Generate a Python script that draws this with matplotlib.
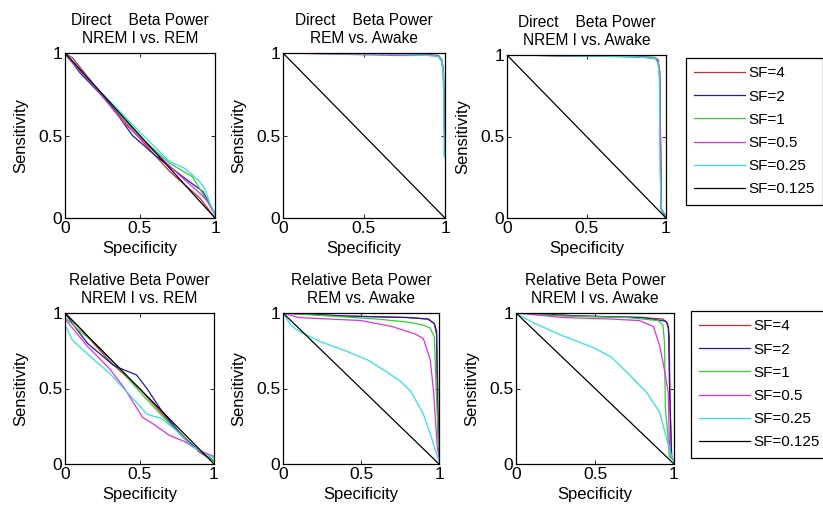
import matplotlib
matplotlib.use("Agg")
import matplotlib.pyplot as plt
from matplotlib.lines import Line2D

plt.rcParams['font.family'] = ['Liberation Sans', 'DejaVu Sans']
plt.rcParams['font.size'] = 10

# ---------------- data ----------------
sf_labels = ['SF=4', 'SF=2', 'SF=1', 'SF=0.5', 'SF=0.25', 'SF=0.125']
sf_colors = ['#cc2b2b', '#1c1ca8', '#30d030', '#e030e0', '#30e0e0', '#000000']

titles = [
    'Direct    Beta Power\nNREM I vs. REM',
    'Direct    Beta Power\nREM vs. Awake',
    'Direct    Beta Power\nNREM I vs. Awake',
    'Relative Beta Power\nNREM I vs. REM',
    'Relative Beta Power\nREM vs. Awake',
    'Relative Beta Power\nNREM I vs. Awake',
]

tick_vals = [0, 0.5, 1]
tick_labels = ['0', '0.5', '1']

# each panel: SF label -> (specificity list, sensitivity list)
direct_nrem_rem = {
    'SF=4':     ([0, 0.05, 0.2, 0.4, 0.5, 0.7, 0.9, 1], [1, 0.97, 0.8, 0.58, 0.48, 0.28, 0.12, 0]),
    'SF=2':     ([0, 0.1, 0.3, 0.45, 0.6, 0.8, 0.92, 1], [1, 0.88, 0.69, 0.5, 0.38, 0.24, 0.16, 0.02]),
    'SF=1':     ([0, 0.2, 0.5, 0.7, 0.85, 0.95, 1], [1, 0.8, 0.49, 0.33, 0.25, 0.1, 0.03]),
    'SF=0.5':   ([0, 0.2, 0.4, 0.6, 0.75, 0.9, 0.95, 1], [0.99, 0.79, 0.57, 0.4, 0.27, 0.15, 0.1, 0.02]),
    'SF=0.25':  ([0, 0.2, 0.5, 0.7, 0.8, 0.9, 0.93, 0.97, 1], [1, 0.8, 0.52, 0.34, 0.3, 0.22, 0.18, 0.08, 0.02]),
    'SF=0.125': ([0, 1], [1, 0]),
}

direct_rem_awake = {
    'SF=4':     ([0, 0.7, 0.9, 0.96, 0.98, 0.99, 0.995, 1], [1, 0.995, 0.99, 0.985, 0.96, 0.9, 0.6, 0.38]),
    'SF=2':     ([0, 0.7, 0.9, 0.96, 0.98, 0.99, 0.995, 1], [1, 0.995, 0.99, 0.98, 0.95, 0.88, 0.65, 0.4]),
    'SF=1':     ([0, 0.75, 0.9, 0.96, 0.98, 0.99, 0.995, 1], [1, 0.99, 0.985, 0.98, 0.96, 0.9, 0.6, 0.4]),
    'SF=0.5':   ([0, 0.7, 0.8, 0.9, 0.96, 0.98, 0.99, 0.995, 1], [1, 0.985, 0.985, 0.99, 0.98, 0.95, 0.88, 0.6, 0.38]),
    'SF=0.25':  ([0, 0.75, 0.9, 0.96, 0.98, 0.99, 0.993, 0.995], [1, 0.99, 0.985, 0.98, 0.95, 0.87, 0.6, 0.37]),
    'SF=0.125': ([0, 1], [1, 0]),
}

direct_nrem_awake = {
    'SF=4':     ([0, 0.8, 0.93, 0.95, 0.96, 0.965, 0.97, 1], [1, 0.99, 0.985, 0.97, 0.9, 0.5, 0.06, 0]),
    'SF=2':     ([0, 0.8, 0.93, 0.95, 0.96, 0.965, 0.97, 1], [1, 0.99, 0.98, 0.96, 0.88, 0.5, 0.05, 0]),
    'SF=1':     ([0, 0.75, 0.93, 0.95, 0.96, 0.965, 0.97, 1], [1, 0.99, 0.985, 0.96, 0.9, 0.5, 0.05, 0]),
    'SF=0.5':   ([0, 0.85, 0.93, 0.95, 0.96, 0.965, 0.97, 1], [1, 0.99, 0.98, 0.97, 0.87, 0.5, 0.06, 0]),
    'SF=0.25':  ([0, 0.8, 0.93, 0.95, 0.958, 0.962, 0.97, 1], [1, 0.99, 0.98, 0.95, 0.85, 0.3, 0.05, 0.02]),
    'SF=0.125': ([0, 1], [1, 0]),
}

relative_nrem_rem = {
    'SF=4':     ([0, 0.1, 0.3, 0.5, 0.7, 0.9, 1], [1, 0.9, 0.68, 0.5, 0.28, 0.08, 0.02]),
    'SF=2':     ([0, 0.05, 0.15, 0.33, 0.48, 0.55, 0.65, 0.8, 0.9, 1], [1, 0.93, 0.8, 0.65, 0.59, 0.5, 0.35, 0.17, 0.09, 0.02]),
    'SF=1':     ([0, 0.1, 0.2, 0.35, 0.5, 0.65, 0.75, 0.85, 0.95, 1], [0.97, 0.88, 0.8, 0.65, 0.48, 0.32, 0.22, 0.12, 0.06, 0.02]),
    'SF=0.5':   ([0, 0.05, 0.15, 0.3, 0.4, 0.45, 0.52, 0.6, 0.7, 0.8, 0.9, 1], [0.96, 0.9, 0.78, 0.63, 0.5, 0.42, 0.31, 0.26, 0.19, 0.15, 0.09, 0.05]),
    'SF=0.25':  ([0, 0.05, 0.15, 0.3, 0.45, 0.55, 0.65, 0.75, 0.85, 0.95, 1], [0.92, 0.82, 0.73, 0.6, 0.44, 0.33, 0.3, 0.22, 0.12, 0.06, 0.04]),
    'SF=0.125': ([0, 1], [1, 0]),
}

relative_rem_awake = {
    'SF=4':     ([0, 0.4, 0.8, 0.93, 0.97, 0.985, 0.99, 0.995, 1], [1, 0.98, 0.97, 0.96, 0.93, 0.85, 0.6, 0.3, 0.05]),
    'SF=2':     ([0, 0.4, 0.8, 0.93, 0.97, 0.985, 0.988, 0.995, 1], [1, 0.98, 0.97, 0.96, 0.93, 0.88, 0.47, 0.2, 0.05]),
    'SF=1':     ([0, 0.3, 0.6, 0.8, 0.9, 0.944, 0.97, 0.98, 0.99, 1], [1, 0.98, 0.96, 0.94, 0.92, 0.9, 0.84, 0.55, 0.3, 0.05]),
    'SF=0.5':   ([0, 0.1, 0.3, 0.5, 0.7, 0.85, 0.9, 0.944, 0.966, 0.98, 0.99, 1], [1, 0.97, 0.96, 0.95, 0.91, 0.86, 0.83, 0.69, 0.47, 0.25, 0.1, 0.05]),
    'SF=0.25':  ([0, 0.05, 0.1, 0.24, 0.4, 0.54, 0.65, 0.75, 0.82, 0.9, 0.95, 0.98, 1], [1, 0.92, 0.88, 0.81, 0.75, 0.69, 0.62, 0.55, 0.48, 0.33, 0.18, 0.08, 0.02]),
    'SF=0.125': ([0, 1], [1, 0]),
}

relative_nrem_awake = {
    'SF=4':     ([0, 0.4, 0.8, 0.93, 0.96, 0.97, 0.975, 0.985, 1], [1, 0.98, 0.97, 0.96, 0.93, 0.85, 0.4, 0.05, 0.02]),
    'SF=2':     ([0, 0.4, 0.8, 0.95, 0.965, 0.97, 0.975, 0.985, 1], [1, 0.98, 0.97, 0.945, 0.9, 0.6, 0.38, 0.05, 0.02]),
    'SF=1':     ([0, 0.3, 0.7, 0.9, 0.93, 0.94, 0.945, 0.96, 0.97, 1], [1, 0.98, 0.97, 0.95, 0.92, 0.8, 0.38, 0.2, 0.05, 0.02]),
    'SF=0.5':   ([0, 0.3, 0.6, 0.78, 0.87, 0.91, 0.94, 0.964, 0.97, 0.98, 1], [1, 0.97, 0.96, 0.95, 0.91, 0.78, 0.62, 0.47, 0.16, 0.05, 0.02]),
    'SF=0.25':  ([0, 0.1, 0.28, 0.49, 0.6, 0.7, 0.83, 0.91, 0.95, 0.985, 1], [1, 0.94, 0.856, 0.77, 0.71, 0.61, 0.47, 0.34, 0.18, 0.05, 0.02]),
    'SF=0.125': ([0, 1], [1, 0]),
}

panels = [direct_nrem_rem, direct_rem_awake, direct_nrem_awake,
          relative_nrem_rem, relative_rem_awake, relative_nrem_awake]

# ---------------- layout (pixel boxes: left, right, top, bottom) ----------------
W, H = 823, 512
boxes = [
    (65, 215, 53, 218), (283, 445, 53, 218), (507, 666, 55, 218),
    (65, 214, 313, 464), (283, 439, 313, 464), (516, 674, 313, 464),
]

fig = plt.figure(figsize=(W / 100, H / 100), dpi=100)

for i, (data, box) in enumerate(zip(panels, boxes)):
    l, r, t, b = box
    ax = fig.add_axes([l / W, 1 - b / H, (r - l) / W, (b - t) / H])
    for lab, col in zip(sf_labels, sf_colors):
        xs, ys = data[lab]
        ax.plot(xs, ys, color=col, lw=0.9, label=lab)
    ax.set_xlim(0, 1)
    ax.set_ylim(0, 1)
    ax.set_xticks(tick_vals)
    ax.set_xticklabels(tick_labels)
    ax.set_yticks(tick_vals)
    ax.set_yticklabels(tick_labels)
    ax.tick_params(direction='in', length=3, width=0.6, top=True, right=True,
                   labelsize=12.5, pad=2)
    for s in ax.spines.values():
        s.set_linewidth(0.9)
    ax.set_xlabel('Specificity', fontsize=12, labelpad=4)
    ax.set_ylabel('Sensitivity', fontsize=12, labelpad=7)
    ax.set_title(titles[i], fontsize=11.2, linespacing=1.25, pad=7)

handles = [Line2D([], [], color=c, lw=0.9) for c in sf_colors]
for (lx, ty) in [(686, 58), (691, 311)]:
    leg = fig.legend(handles, sf_labels, loc='upper left',
                     bbox_to_anchor=(lx / W, 1 - ty / H),
                     borderaxespad=0, frameon=True, fancybox=False,
                     edgecolor='black', framealpha=1, fontsize=11,
                     handlelength=3.3, handletextpad=0.2, labelspacing=0.6,
                     borderpad=0.55)
    leg.get_frame().set_linewidth(0.9)

fig.savefig('out.png', dpi=100)
